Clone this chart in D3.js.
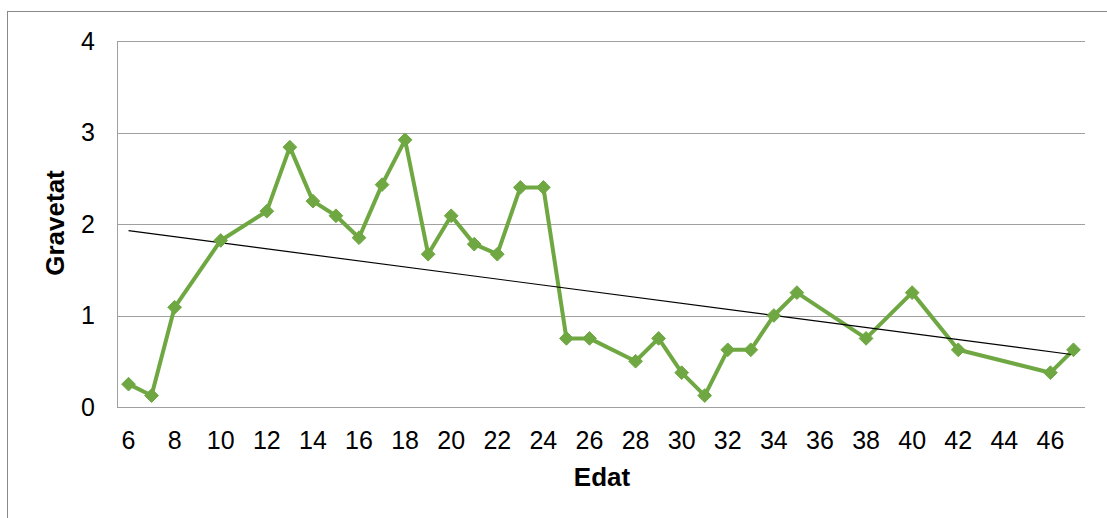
<!DOCTYPE html>
<html>
<head>
<meta charset="utf-8">
<script src="https://cdn.jsdelivr.net/npm/d3@7"></script>
<style>
  body { margin: 0; background: #fff; }
  svg { display: block; font-family: "Liberation Sans", Arial, sans-serif; }
</style>
</head>
<body>
<div id="chart"></div>
<script>
// Edat (age) and Gravetat (severity)
const ages = [6, 7, 8, 10, 12, 13, 14, 15, 16, 17, 18, 19, 20, 21, 22, 23, 24,
              25, 26, 28, 29, 30, 31, 32, 33, 34, 35, 38, 40, 42, 46, 47];
const gravetat = [0.25, 0.125, 1.09, 1.82, 2.14, 2.84, 2.25, 2.09, 1.85, 2.43, 2.92, 1.67, 2.09, 1.78, 1.67, 2.4, 2.4,
                  0.75, 0.75, 0.5, 0.75, 0.375, 0.125, 0.625, 0.625, 1.0, 1.25, 0.75, 1.25, 0.625, 0.375, 0.625];
const xTicks = d3.range(6, 47, 2);
const yTicks = [0, 1, 2, 3, 4];

const W = 1107, H = 518;
const margin = { left: 117, right: 22, top: 41, bottom: 111 };

const svg = d3.select('#chart').append('svg')
    .attr('width', W)
    .attr('height', H);

// outer chart border
svg.append('rect')
    .attr('x', 7.5).attr('y', 11.5)
    .attr('width', W + 10).attr('height', H + 10)
    .attr('fill', 'none')
    .attr('stroke', '#898989')
    .attr('stroke-width', 1);

const x = d3.scaleLinear().domain([5.5, 47.5]).range([margin.left, W - margin.right]);
const y = d3.scaleLinear().domain([0, 4]).range([H - margin.bottom, margin.top]);

// gridlines
svg.append('g')
    .selectAll('line')
    .data(yTicks)
    .join('line')
    .attr('x1', margin.left).attr('x2', W - margin.right)
    .attr('y1', d => Math.round(y(d)) + 0.5).attr('y2', d => Math.round(y(d)) + 0.5)
    .attr('stroke', '#a0a0a0')
    .attr('stroke-width', 1);

// y axis line
svg.append('line')
    .attr('x1', margin.left + 0.5).attr('x2', margin.left + 0.5)
    .attr('y1', y(4)).attr('y2', y(0))
    .attr('stroke', '#a0a0a0');

// y tick labels
svg.append('g')
    .selectAll('text')
    .data(yTicks)
    .join('text')
    .attr('x', 95)
    .attr('y', d => y(d))
    .attr('dy', '0.35em')
    .attr('text-anchor', 'end')
    .style('font-size', '25px')
    .attr('fill', '#000')
    .text(d => d);

// x tick labels
svg.append('g')
    .selectAll('text')
    .data(xTicks)
    .join('text')
    .attr('x', d => x(d))
    .attr('y', 449)
    .attr('text-anchor', 'middle')
    .style('font-size', '25px')
    .attr('fill', '#000')
    .text(d => d);

// axis titles
svg.append('text')
    .attr('x', 602).attr('y', 486)
    .attr('text-anchor', 'middle')
    .style('font-size', '26px')
    .style('font-weight', 'bold')
    .text('Edat');

svg.append('text')
    .attr('transform', 'translate(64,223) rotate(-90)')
    .attr('text-anchor', 'middle')
    .style('font-size', '26px')
    .style('font-weight', 'bold')
    .text('Gravetat');

// data line
const pts = ages.map((a, i) => [a, gravetat[i]]);
const green = '#6fa842';

svg.append('path')
    .datum(pts)
    .attr('fill', 'none')
    .attr('stroke', green)
    .attr('stroke-width', 4)
    .attr('stroke-linejoin', 'round')
    .attr('d', d3.line().x(d => x(d[0])).y(d => y(d[1])));

// linear trendline (least squares over the points)
const n = pts.length;
const mx = d3.mean(ages), my = d3.mean(gravetat);
const slope = d3.sum(pts, d => (d[0] - mx) * (d[1] - my)) / d3.sum(pts, d => (d[0] - mx) ** 2);
const icpt = my - slope * mx;
const trend = [ages[0], ages[n - 1]].map(a => [a, icpt + slope * a]);

svg.append('path')
    .datum(trend)
    .attr('fill', 'none')
    .attr('stroke', '#000')
    .attr('stroke-width', 1.2)
    .attr('d', d3.line().x(d => x(d[0])).y(d => y(d[1])));

// diamond markers
svg.append('g')
    .selectAll('path')
    .data(pts)
    .join('path')
    .attr('transform', d => `translate(${x(d[0])},${y(d[1])})`)
    .attr('d', d3.symbol().type(d3.symbolDiamond2).size(120))
    .attr('fill', green)
    .attr('stroke', green)
    .attr('stroke-width', 1);
</script>
</body>
</html>
